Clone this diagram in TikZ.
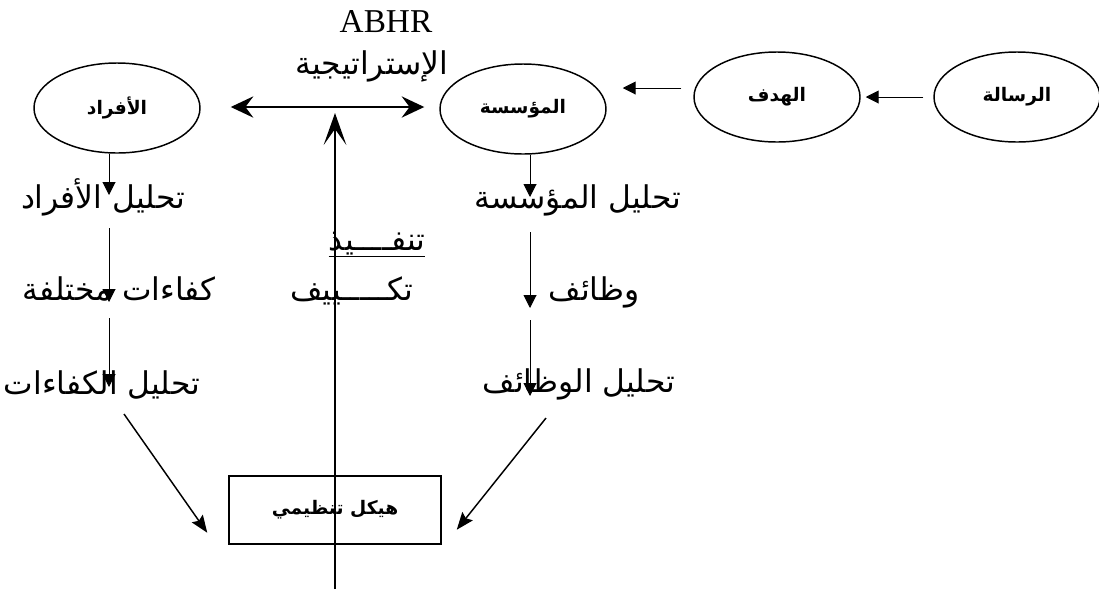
\documentclass[tikz,border=0pt]{standalone}
\usepackage{fontspec}
\setmainfont{Liberation Serif}
\newfontfamily\arabicfont[Script=Arabic]{DejaVu Sans}
\TeXXeTstate=1
\usetikzlibrary{shapes.geometric,arrows.meta,positioning,calc}
\newcommand{\artxt}[1]{\beginR #1\endR}
\begin{document}
\begin{tikzpicture}[x=0.75pt,y=-0.75pt,
      ell/.style={ellipse,draw,line width=1.1pt,minimum width=124.5pt,minimum height=67.5pt,inner sep=0pt,font=\arabicfont\bfseries\fontsize{14}{16}\selectfont},
      box/.style={draw,line width=1.1pt,minimum width=159pt,minimum height=51pt,inner sep=0pt,font=\arabicfont\bfseries\fontsize{14}{16}\selectfont},
      txt/.style={anchor=base,inner sep=0pt,font=\arabicfont\fontsize{23.5}{26}\selectfont},
      thinarr/.style={line width=0.75pt,-{Triangle[length=9.75pt,width=9.75pt]}},
      diagarr/.style={line width=1.1pt,-{Stealth[length=13pt,width=10pt,inset=2pt]}},
      bigarr/.style={line width=1.2pt,{Stealth[length=17pt,width=16pt,inset=6pt]}-{Stealth[length=17pt,width=16pt,inset=6pt]}},
      uparr/.style={line width=1.2pt,-{Stealth[length=24pt,width=17pt,inset=12pt]}}
    ]
      \useasboundingbox (0,0) rectangle (1099,594);
      % Top labels
      \node[font=\fontsize{25}{28}\selectfont,anchor=base,inner sep=0pt] (abhr) at (386,32) {ABHR};
      \node[txt] (strat) at (372,74) {\artxt{الإستراتيجية}};
      % Ellipses
      \node[ell] (afrad) at (117,108) {\artxt{الأفراد}};
      \node[ell] (muassasa) at (523,109) {\artxt{المؤسسة}};
      \node[ell] (hadaf) at (777,97) {\artxt{الهدف}};
      \node[ell] (risala) at (1017,97) {\artxt{الرسالة}};
      % Left column
      \node[txt] (tafrad) at (103,208) {\artxt{تحليل الأفراد}};
      \node[txt] (kafaat) at (119,300) {\artxt{كفاءات مختلفة}};
      \node[txt] (tkafaat) at (102,394) {\artxt{تحليل الكفاءات}};
      % Middle column
      \node[txt] (tanfidh) at (377,250) {\underline{\hbox{\artxt{تنفــــيذ}}}};
      \node[txt] (takyif) at (352,300) {\artxt{تكـــــييف}};
      % Right column
      \node[txt] (tmuas) at (578,208) {\artxt{تحليل المؤسسة}};
      \node[txt] (wazaif) at (594,300) {\artxt{وظائف}};
      \node[txt] (twazaif) at (579,392) {\artxt{تحليل الوظائف}};
      % Box
      \node[box] (haykal) at (335,510) {\artxt{هيكل تنظيمي}};
      % Helper coordinates
      \coordinate (lcol) at (109,0);
      \coordinate (rcol) at (530,0);
      \coordinate (toprow) at (0,88);
      \coordinate (execbase) at (335,589);
      \coordinate (exectip) at (335,113);
      % Top row arrows
      \draw[bigarr,shorten <=22.5pt,shorten >=11.25pt] ([yshift=0.75pt]afrad.east) -- ([yshift=1.5pt]muassasa.west);
      \draw[thinarr,shorten <=9pt,shorten >=12pt] (hadaf.west |- toprow) -- (muassasa.east |- toprow);
      \draw[thinarr,shorten <=7.5pt,shorten >=3.75pt] (risala) -- (hadaf);
      % Left column arrows
      \draw[thinarr] (afrad.south -| lcol) -- ($(tafrad.base -| lcol)+(0,-13)$);
      \draw[thinarr] ($(tafrad.base -| lcol)+(0,20)$) -- ($(kafaat.base -| lcol)+(0,2)$);
      \draw[thinarr] ($(kafaat.base -| lcol)+(0,18)$) -- ($(tkafaat.base -| lcol)+(0,-7)$);
      \draw[diagarr] ($(tkafaat.base)+(22,20)$) -- ($(haykal.south west)+(-21,-12)$);
      % Right column arrows
      \draw[thinarr] (muassasa.south -| rcol) -- ($(tmuas.base -| rcol)+(0,-11)$);
      \draw[thinarr] ($(tmuas.base -| rcol)+(0,24)$) -- ($(wazaif.base -| rcol)+(0,8)$);
      \draw[thinarr] ($(wazaif.base -| rcol)+(0,20)$) -- ($(twazaif.base -| rcol)+(0,4)$);
      \draw[diagarr] ($(twazaif.base)+(-33,26)$) -- ($(haykal.south east)+(15,-15)$);
      % Execution arrow
      \draw[uparr] (execbase) -- (exectip);
    \end{tikzpicture}
\end{document}
